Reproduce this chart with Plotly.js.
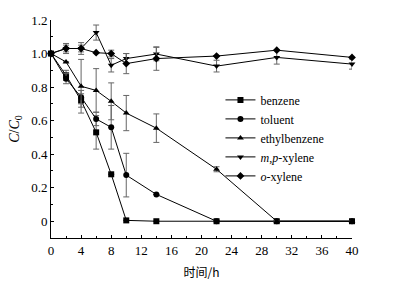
<!DOCTYPE html>
<html><head><meta charset="utf-8">
<script src="https://cdn.plot.ly/plotly-3.0.1.min.js"></script>
<style>body{margin:0;background:#fff}#c{width:407px;height:283px}</style>
</head><body><div id="c"></div>
<script>
var time = [0, 2, 4, 6, 8, 10, 14, 22, 30, 40];
var benzene = [1.0, 0.87, 0.72, 0.53, 0.28, 0.005, 0.0, 0.0, 0.0, 0.0];
var benzeneErr = [0, 0.03, 0.04, 0.10, 0, 0, 0, 0, 0, 0];
var toluent = [1.0, 0.85, 0.74, 0.61, 0.56, 0.275, 0.16, 0.0, 0.0, 0.0];
var toluentErr = [0, 0.03, 0.04, 0.04, 0.13, 0.13, 0, 0, 0, 0];
var ethylbenzene = [1.0, 0.95, 0.805, 0.78, 0.715, 0.645, 0.555, 0.31, 0.0, 0.0];
var ethylbenzeneErr = [0, 0, 0.16, 0.13, 0.11, 0.105, 0.085, 0.015, 0, 0];
var mpXylene = [1.0, 1.03, 1.03, 1.125, 0.93, 0.97, 0.997, 0.925, 0.977, 0.937];
var mpXyleneErr = [0, 0.03, 0.035, 0.045, 0.04, 0.03, 0.04, 0.035, 0.04, 0.03];
var oXylene = [1.0, 1.03, 1.03, 1.005, 1.0, 0.94, 0.97, 0.985, 1.02, 0.977];
var oXyleneErr = [0, 0.02, 0.02, 0, 0.02, 0.06, 0.07, 0, 0, 0];
var names = ["benzene", "toluent", "ethylbenzene", "<i>m</i>,<i>p</i>-xylene", "<i>o</i>-xylene"];
var symbols = ["square", "circle", "triangle-up", "triangle-down", "diamond"];
var yTickVals = [0, 0.2, 0.4, 0.6, 0.8, 1.0, 1.2];
var yTickText = ["0", "0.2", "0.4", "0.6", "0.8", "1.0", "1.2"];
var xTickVals = [0, 4, 8, 12, 16, 20, 24, 28, 32, 36, 40];

var series = [benzene, toluent, ethylbenzene, mpXylene, oXylene];
var errs = [benzeneErr, toluentErr, ethylbenzeneErr, mpXyleneErr, oXyleneErr];
var traces = series.map(function (s, i) {
  return {
    x: time, y: s, name: names[i], type: 'scatter', mode: 'lines+markers',
    cliponaxis: false,
    line: {color: '#000', width: 1},
    marker: {symbol: symbols[i], size: 6, color: '#000'},
    error_y: {type: 'data', array: errs[i], visible: true, color: '#666', thickness: 1, width: 3}
  };
});
var serif = 'Liberation Serif';
var font = {family: serif, size: 13, color: '#000'};
var layout = {
  width: 407, height: 283,
  margin: {l: 51, r: 55, t: 20, b: 45},
  paper_bgcolor: '#fff', plot_bgcolor: '#fff',
  font: font,
  showlegend: true,
  legend: {x: 0.563, y: 0.70, xanchor: 'left', yanchor: 'top', font: {family: serif, size: 12, color: '#000'},
           bgcolor: 'rgba(0,0,0,0)', tracegroupgap: 0, itemwidth: 30},
  xaxis: {
    range: [0, 40], showline: true, linecolor: '#000', linewidth: 1, showgrid: false, zeroline: false,
    tickmode: 'array', tickvals: xTickVals, ticks: 'inside', ticklen: 3, tickcolor: '#000',
    minor: {dtick: 2, tick0: 0, ticks: 'inside', ticklen: 2, tickcolor: '#000', showgrid: false},
    tickfont: font,
    title: {text: '时间/h', font: {family: 'Noto Sans CJK SC', size: 12, color: '#000'}, standoff: 12}
  },
  yaxis: {
    range: [-0.1, 1.2], showline: true, linecolor: '#000', linewidth: 1, showgrid: false, zeroline: false,
    tickmode: 'array', tickvals: yTickVals, ticktext: yTickText, ticks: 'inside', ticklen: 3, tickcolor: '#000',
    minor: {dtick: 0.1, tick0: 0, ticks: 'inside', ticklen: 2, tickcolor: '#000', showgrid: false},
    tickfont: font,
    title: {text: '<i>C</i>/<i>C</i><sub>0</sub>', font: {family: serif, size: 14, color: '#000'}, standoff: 8}
  }
};
Plotly.newPlot('c', traces, layout, {staticPlot: true, displayModeBar: false});
</script></body></html>
